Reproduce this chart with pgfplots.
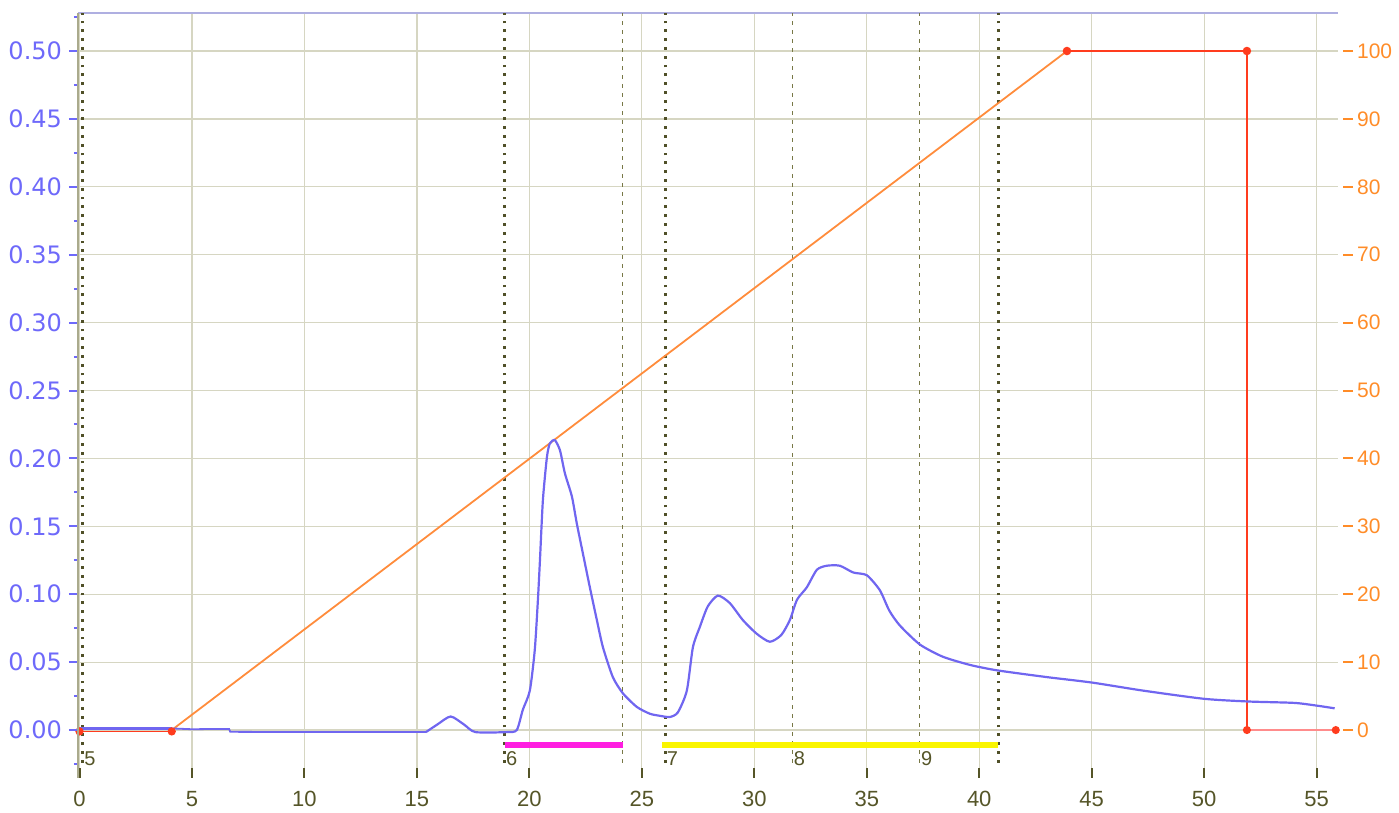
\documentclass[border=0pt]{standalone}
\usepackage{fontspec}
\setmainfont{Liberation Sans}
\newfontfamily\dejavu{DejaVu Sans}
\usepackage{pgfplots}
\usepackage{pgfplotstable}
\pgfplotsset{compat=1.18}
\definecolor{gridc}{RGB}{214,214,194}
\definecolor{olivedark}{RGB}{85,85,40}
\definecolor{dotc}{RGB}{80,80,40}
\definecolor{dashc}{RGB}{120,120,70}
\definecolor{bluel}{RGB}{110,105,250}
\definecolor{bluec}{RGB}{112,102,240}
\definecolor{leftc}{RGB}{170,170,140}
\definecolor{topc}{RGB}{175,175,225}
\definecolor{orangeR}{RGB}{255,140,40}
\definecolor{gradc}{RGB}{255,140,60}
\definecolor{redc}{RGB}{255,60,30}
\definecolor{pinkc}{RGB}{255,140,140}
\definecolor{magc}{RGB}{255,30,225}
\definecolor{yelc}{RGB}{250,245,0}

\pgfplotstableread{
x y
15.4 -0.0015
15.9 0.004
16.5 0.010
17.1 0.004
17.6 -0.0015
19.0 -0.0015
19.44 0.000
19.71 0.015
20.02 0.029
20.24 0.059
20.38 0.096
20.47 0.125
20.6 0.169
20.78 0.201
20.91 0.211
21.13 0.2135
21.36 0.206
21.58 0.189
21.89 0.172
22.11 0.152
22.38 0.130
22.69 0.105
23.0 0.081
23.27 0.061
23.71 0.039
24.16 0.027
24.78 0.017
25.36 0.012
25.8 0.0105
26.24 0.0096
26.6 0.013
27.0 0.029
27.27 0.061
27.58 0.076
27.93 0.091
28.38 0.099
28.91 0.0935
29.49 0.081
30.1 0.071
30.69 0.065
31.2 0.070
31.58 0.081
31.9 0.096
32.33 0.105
32.78 0.118
33.22 0.121
33.8 0.121
34.4 0.116
35.0 0.114
35.58 0.103
36.0 0.088
36.47 0.077
37.36 0.063
38.38 0.054
39.58 0.048
40.78 0.044
43 0.039
45 0.035
47.3 0.029
50 0.023
52 0.021
54 0.020
55 0.018
55.8 0.016
}\uvtail

\pgfplotstableread{
x B
4.1 0
43.9 100
}\gradramp

\begin{document}
\begin{tikzpicture}
\useasboundingbox (-39pt,-17.5pt) rectangle (660.5pt,389pt);
% main axis: data, grid, x ticks
\begin{axis}[at={(0,0)}, anchor=south west, scale only axis,
  width=630pt, height=382.5pt,
  xmin=-0.067, xmax=55.95, ymin=-0.0353, ymax=0.528,
  axis line style={draw=none},
  xtick={0,5,...,55}, ytick={0,0.05,...,0.5},
  yticklabels={}, ytick style={draw=none},
  xtick pos=bottom, ytick pos=left,
  grid=major, major grid style={color=gridc, line width=0.6pt},
  tick align=inside, major tick length=5pt,
  xtick style={color=olivedark, line width=1pt},
  xticklabel style={font=\fontsize{11}{13}\selectfont, color=olivedark, yshift=-3pt},
  /pgf/number format/assume math mode=true,
  clip=false]
  \draw[color=topc, line width=0.8pt] (rel axis cs:0,1) -- (rel axis cs:1,1);
  % fraction markers
  \addplot[dotc, line width=1.4pt, dash pattern=on 1.4pt off 3pt] coordinates {(0.15,-0.024) (0.15,0.528)};
  \addplot[dotc, line width=1.4pt, dash pattern=on 1.4pt off 3pt] coordinates {(18.9,-0.024) (18.9,0.528)};
  \addplot[dotc, line width=1.4pt, dash pattern=on 1.4pt off 3pt] coordinates {(26.05,-0.024) (26.05,0.528)};
  \addplot[dotc, line width=1.4pt, dash pattern=on 1.4pt off 3pt] coordinates {(40.85,-0.024) (40.85,0.528)};
  \addplot[dashc, line width=0.7pt, dash pattern=on 2pt off 2.5pt] coordinates {(24.15,-0.024) (24.15,0.528)};
  \addplot[dashc, line width=0.7pt, dash pattern=on 2pt off 2.5pt] coordinates {(31.7,-0.024) (31.7,0.528)};
  \addplot[dashc, line width=0.7pt, dash pattern=on 2pt off 2.5pt] coordinates {(37.35,-0.024) (37.35,0.528)};
  \node[anchor=west, inner sep=0.5pt, font=\fontsize{10}{12}\selectfont, color=olivedark] at (axis cs:0.15,-0.021) {5};
  \node[anchor=west, inner sep=0.5pt, font=\fontsize{10}{12}\selectfont, color=olivedark] at (axis cs:18.9,-0.021) {6};
  \node[anchor=west, inner sep=0.5pt, font=\fontsize{10}{12}\selectfont, color=olivedark] at (axis cs:26.05,-0.021) {7};
  \node[anchor=west, inner sep=0.5pt, font=\fontsize{10}{12}\selectfont, color=olivedark] at (axis cs:31.7,-0.021) {8};
  \node[anchor=west, inner sep=0.5pt, font=\fontsize{10}{12}\selectfont, color=olivedark] at (axis cs:37.35,-0.021) {9};
  % fraction bars
  \addplot[magc, line width=3pt] coordinates {(18.9,-0.011) (24.15,-0.011)};
  \addplot[yelc, line width=3pt] coordinates {(25.9,-0.011) (40.85,-0.011)};
  % gradient (percent B, right axis: 100 % = 0.5)
  \addplot[redc, line width=0.9pt, mark=*, mark size=1.6pt, mark options={fill=redc, draw=redc}] table[y expr=\thisrow{B}/200] {
x B
0 -0.2
4.1 -0.2
};
  \addplot[gradc, line width=0.9pt] table[y expr=\thisrow{B}/200] {\gradramp};
  \addplot[redc, line width=1pt, mark=*, mark size=1.6pt, mark options={fill=redc, draw=redc}] table[y expr=\thisrow{B}/200] {
x B
43.9 100
51.9 100
};
  \addplot[redc, line width=1.2pt] table[y expr=\thisrow{B}/200] {
x B
51.9 100
51.9 0
};
  \addplot[pinkc, line width=0.8pt, mark=*, mark size=1.6pt, mark options={fill=redc, draw=redc}] table[y expr=\thisrow{B}/200] {
x B
51.9 0
55.85 0
};
  % UV trace
  \addplot[bluec, line width=1.6pt] coordinates {(0,0.0012) (4.1,0.0012)};
  \addplot[bluec, line width=0.9pt] coordinates {(4.1,0.0012) (5,0.0006) (6,0.0008) (6.65,0.0008) (6.7,-0.0013) (10,-0.0015) (15.4,-0.0015)};
  \addplot[bluec, line width=1.1pt, smooth, tension=0.4] table[x=x, y=y] {\uvtail};
\end{axis}
% left axis
\begin{axis}[at={(0,0)}, anchor=south west, scale only axis,
  width=630pt, height=382.5pt,
  xmin=-0.067, xmax=55.95, ymin=-0.0353, ymax=0.528,
  hide x axis, axis y line*=left,
  y axis line style={draw=leftc, line width=0.8pt},
  ytick={0,0.05,...,0.5}, minor ytick={-0.025,0.025,...,0.525},
  tick align=outside, major tick length=4.5pt, minor tick length=2pt,
  ytick style={color=bluel, line width=1pt},
  yticklabel style={font=\dejavu\fontsize{12}{14}\selectfont, color=bluel,
    /pgf/number format/.cd, fixed, fixed zerofill, precision=2},
  /pgf/number format/assume math mode=true]
\end{axis}
% right axis
\begin{axis}[at={(0,0)}, anchor=south west, scale only axis,
  width=632.5pt, height=382.5pt,
  xmin=0, xmax=1, ymin=-7.07, ymax=105.6,
  hide x axis, axis y line*=right,
  y axis line style={draw=none},
  ytick={0,10,...,100},
  tick align=outside, major tick length=5pt,
  ytick style={color=orangeR, line width=1pt},
  yticklabel style={font=\fontsize{10.5}{12}\selectfont, color=orangeR, xshift=-1.5pt},
  /pgf/number format/assume math mode=true]
\end{axis}
\end{tikzpicture}
\end{document}
